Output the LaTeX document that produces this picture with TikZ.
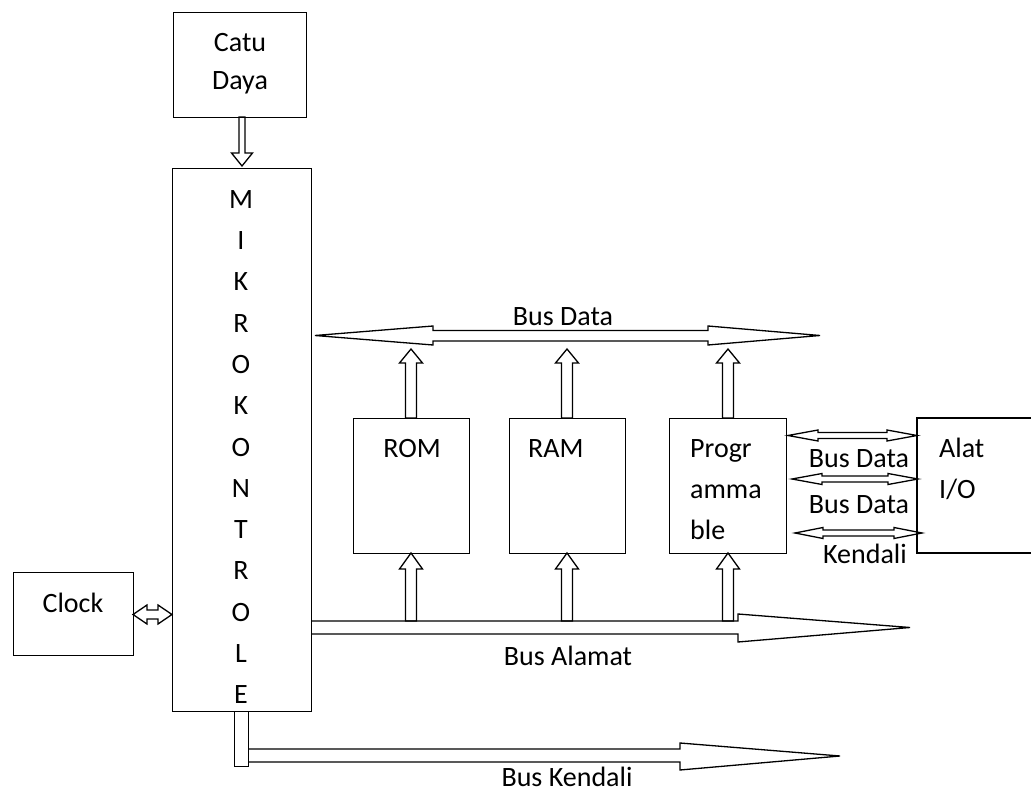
\documentclass[tikz,border=0pt]{standalone}
\usepackage{fontspec}
\setmainfont{Carlito}
\newcommand\hdbl[6]{\draw[blk] (#1,#3) -- ({#1+#4},{#3-#5}) -- ({#1+#4},{#3-#6}) -- ({#2-#4},{#3-#6}) -- ({#2-#4},{#3-#5}) -- (#2,#3) -- ({#2-#4},{#3+#5}) -- ({#2-#4},{#3+#6}) -- ({#1+#4},{#3+#6}) -- ({#1+#4},{#3+#5}) -- cycle;}
\newcommand\uparr[6]{\draw[blk] (#1,#2) -- ({#1+#5},{#2+#4}) -- ({#1+#6},{#2+#4}) -- ({#1+#6},#3) -- ({#1-#6},#3) -- ({#1-#6},{#2+#4}) -- ({#1-#5},{#2+#4}) -- cycle;}
\newcommand\downarr[6]{\draw[blk] (#1,#2) -- ({#1+#5},{#2-#4}) -- ({#1+#6},{#2-#4}) -- ({#1+#6},#3) -- ({#1-#6},#3) -- ({#1-#6},{#2-#4}) -- ({#1-#5},{#2-#4}) -- cycle;}
\begin{document}
\begin{tikzpicture}[x=1pt,y=-1pt,
 box/.style={draw,line width=1.3pt,inner sep=0pt,anchor=north west},
 lbl/.style={font=\fontsize{28}{34}\selectfont,inner sep=0pt,anchor=base},
 lbll/.style={lbl,anchor=base west},
 blk/.style={draw,line width=1.3pt,line join=miter}]
\useasboundingbox (0,0) rectangle (1031,794);
% boxes
\node[box,minimum width=133pt,minimum height=105pt] (catu) at (173,12) {};
\node[box,minimum width=139pt,minimum height=543pt] (mikro) at (172,168) {};
\node[box,minimum width=120pt,minimum height=83pt] (clock) at (13,572) {};
\node[box,minimum width=116pt,minimum height=135pt] (rom) at (353,418) {};
\node[box,minimum width=116pt,minimum height=135pt] (ram) at (509,418) {};
\node[box,minimum width=117pt,minimum height=135pt] (prog) at (669,418) {};
\node[box,minimum width=14pt,minimum height=55pt] (stub) at (234,711) {};
\draw[blk] (1032,418) coordinate (alatTR) -- (917,418) coordinate (alatTL) -- (917,553) coordinate (alatBL) -- (1032,553) coordinate (alatBR);
% texts
\node[lbl] (t1) at (240,52) {Catu};
\node[lbl] (t2) at (240,90) {Daya};
\foreach \c [count=\i from 0] in {M,I,K,R,O,K,O,N,T,R,O,L,E}
  \node[lbl] (m\i) at (241,{208.5+41.25*\i}) {\c};
\node[lbl] (tclock) at (73,612) {Clock};
\node[lbl] (trom) at (412,457) {ROM};
\node[lbll] (tram) at (528,457) {RAM};
\node[lbll] (tp1) at (690,457) {Progr};
\node[lbll] (tp2) at (690,498) {amma};
\node[lbll] (tp3) at (690,539) {ble};
\node[lbll] (ta1) at (939,457) {Alat};
\node[lbll] (ta2) at (939,498) {I/O};
\node[lbl] (tbd) at (563,326) {Bus Data};
\node[lbl] (tio1) at (859,467) {Bus Data};
\node[lbl] (tio2) at (859,513) {Bus Data};
\node[lbl] (tio3) at (865,563) {Kendali};
\node[lbl] (tba) at (568,665) {Bus Alamat};
\node[lbl] (tbk) at (567,786) {Bus Kendali};
% Bus Data
\draw[blk] (315,335.5) -- (433,326) -- (433,330.5) -- (708,330.5) -- (708,326) -- (820,335.5) -- (708,345) -- (708,341) -- (433,341) -- (433,345) -- cycle;
% Bus Alamat
\draw[blk] (311,621) -- (738,621) -- (738,614) -- (910,627.5) -- (738,642) -- (738,634) -- (311,634);
% Bus Kendali
\draw[blk] (248,749) -- (680,749) -- (680,743) -- (840,756) -- (680,770) -- (680,762) -- (248,762);
% up arrows
\uparr{411}{553}{621}{16}{11.5}{5.5}
\uparr{567}{553}{621}{16}{11.5}{5.5}
\uparr{728}{553}{621}{16}{11.5}{5.5}
\uparr{411}{349}{418}{14}{11.5}{5.5}
\uparr{567}{349}{418}{14}{11.5}{5.5}
\uparr{728}{349}{418}{14}{11.5}{5.5}
% Catu Daya arrow
\downarr{242}{166}{117}{13}{10.5}{3}
% clock arrow
\hdbl{133}{172}{614.5}{14}{9.5}{4.5}
% I/O arrows
\hdbl{788}{917}{435.5}{30}{5.5}{3}
\hdbl{792}{918}{479}{30}{5.5}{3}
\hdbl{795}{922}{533}{28}{5.5}{3}
\end{tikzpicture}
\end{document}
